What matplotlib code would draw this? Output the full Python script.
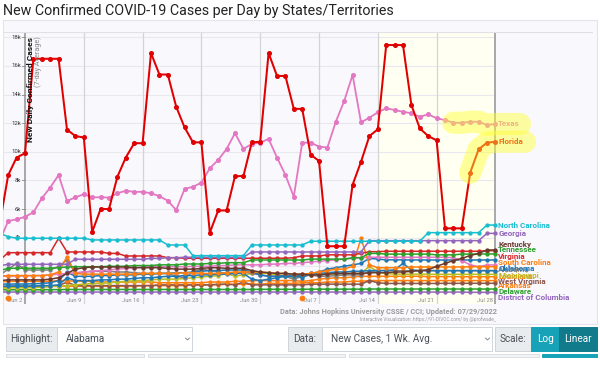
import matplotlib
matplotlib.use("Agg")
import matplotlib.pyplot as plt
from matplotlib.patches import Rectangle
import pandas as pd

plt.rcParams['font.family'] = ['Roboto', 'DejaVu Sans']

# ---------------- data (thousands of new cases/day, 7-day avg) ----------------
dates = pd.date_range('2020-05-30', '2020-07-28')
date_labels = [f"{d:%b} {d.day}" for d in dates]
tick_labels = ['Jun 2', 'Jun 9', 'Jun 16', 'Jun 23', 'Jun 30', 'Jul 7', 'Jul 14', 'Jul 21', 'Jul 28']
ytick_vals = [2, 4, 6, 8, 10, 12, 14, 16, 18]
ytick_labels = ['2k', '4k', '6k', '8k', '10k', '12k', '14k', '16k', '18k']
highlight_start, highlight_end = 'Jul 14', 'Jul 28'
event_dates = ['May 31', 'Jul 5']

florida = [5.0, 8.37, 9.6, 9.9, 16.5, 16.5, 16.5, 16.5, 11.55, 11.1,
           11.0, 4.4, 6.0, 6.0, 8.26, 9.6, 10.6, 10.6, 16.9, 15.4,
           15.4, 13.15, 11.7, 10.66, 10.66, 4.35, 5.9, 5.9, 8.3, 8.3,
           10.66, 10.7, 16.9, 15.3, 15.3, 13.0, 13.0, 9.8, 9.36, 3.4,
           3.4, 3.4, 7.7, 9.3, 11.1, 11.57, 17.46, 17.46, 17.46, 13.27,
           11.64, 11.1, 10.8, 4.65, 4.65, 4.65, 8.54, 10.17, 10.64, 10.7]
texas = [3.8, 5.16, 5.28, 5.46, 5.77, 6.75, 7.5, 8.38, 6.56, 6.82,
         7.03, 6.82, 6.82, 6.8, 7.1, 7.28, 7.2, 7.2, 7.1, 6.9,
         6.58, 5.93, 7.4, 7.56, 7.84, 8.85, 9.43, 10.2, 11.3, 10.2,
         10.55, 10.64, 10.9, 9.6, 8.38, 6.86, 10.64, 10.64, 10.36, 10.3,
         12.1, 13.55, 15.37, 12.06, 12.38, 12.76, 13.04, 12.92, 12.8, 12.69,
         12.45, 12.62, 12.34, 12.22, 12.03, 12.03, 12.1, 12.1, 11.87, 11.94]
north_carolina = [4.30, 4.07, 3.96, 3.96, 3.96, 3.96, 3.96, 3.96, 3.96, 3.96,
                  3.96, 3.84, 3.84, 3.84, 3.84, 3.84, 3.84, 3.84, 3.84, 3.84,
                  3.49, 3.49, 3.49, 2.74, 2.74, 2.74, 2.74, 2.74, 2.74, 2.74,
                  3.49, 3.49, 3.49, 3.49, 3.49, 3.49, 3.49, 3.75, 3.75, 3.75,
                  3.75, 3.75, 3.75, 3.75, 3.75, 3.75, 3.75, 3.75, 3.75, 3.75,
                  3.75, 4.35, 4.35, 4.35, 4.35, 4.35, 4.35, 4.35, 4.88, 4.88]
georgia = [2.04, 2.14, 2.14, 2.14, 2.14, 2.14, 2.14, 2.14, 2.14, 2.49,
           2.49, 2.49, 2.49, 2.49, 2.49, 2.49, 2.49, 2.49, 2.55, 2.55,
           2.60, 2.60, 2.63, 2.63, 2.63, 2.63, 2.63, 2.63, 2.63, 2.63,
           3.00, 3.00, 3.00, 3.00, 3.00, 3.00, 3.00, 3.00, 3.00, 3.00,
           3.00, 3.00, 3.00, 3.00, 3.79, 3.79, 3.79, 3.79, 3.79, 3.79,
           3.79, 3.79, 3.79, 3.79, 3.79, 3.79, 3.79, 3.79, 4.30, 4.30]
virginia = [2.44, 2.95, 2.95, 2.95, 2.95, 2.95, 2.95, 3.96, 3.0, 3.0,
            3.0, 3.0, 3.0, 2.9, 2.9, 2.72, 2.72, 2.72, 2.72, 2.72,
            2.6, 2.6, 2.56, 2.56, 2.56, 2.56, 2.56, 2.56, 2.56, 2.56,
            2.56, 2.56, 2.56, 2.56, 2.56, 2.6, 2.72, 2.72, 2.72, 2.8,
            2.8, 2.8, 2.8, 2.9, 3.02, 3.02, 3.05, 3.05, 3.05, 3.05,
            3.05, 3.05, 3.05, 3.05, 3.05, 3.05, 3.05, 3.05, 3.09, 3.09]
tennessee = [1.7, 1.86, 1.86, 1.86, 1.86, 1.86, 1.86, 1.9, 1.95, 1.97,
             1.97, 1.97, 1.97, 2.0, 2.0, 2.0, 2.05, 2.05, 2.05, 2.1,
             2.1, 2.1, 2.16, 2.16, 2.16, 2.2, 2.2, 2.25, 2.25, 2.25,
             2.44, 2.44, 2.44, 2.44, 2.44, 2.44, 2.44, 2.5, 2.5, 2.5,
             2.5, 2.5, 2.6, 2.6, 2.9, 2.9, 2.85, 2.85, 2.85, 2.85,
             2.85, 2.85, 2.8, 2.8, 2.8, 2.85, 2.85, 2.86, 2.86, 2.86]
kentucky = [1.0, 1.05, 1.05, 1.05, 1.05, 1.05, 1.1, 1.2, 1.5, 1.8,
            1.9, 1.95, 1.95, 1.95, 1.95, 1.95, 1.9, 1.9, 1.9, 1.9,
            1.85, 1.8, 1.8, 1.8, 1.85, 1.9, 1.9, 1.85, 1.86, 1.86,
            1.7, 1.6, 1.55, 1.5, 1.5, 1.45, 1.45, 1.4, 1.4, 1.45,
            1.5, 1.5, 1.5, 1.5, 1.55, 1.55, 1.55, 1.6, 1.6, 1.65,
            1.7, 1.75, 2.0, 2.2, 2.4, 2.55, 2.75, 2.9, 3.14, 3.14]
south_carolina = [1.3, 1.35, 1.35, 1.35, 1.35, 1.35, 1.4, 1.6, 2.67, 1.5,
                  1.45, 1.45, 1.45, 1.45, 1.45, 1.45, 1.45, 1.5, 1.5, 1.5,
                  1.5, 1.5, 1.55, 1.55, 1.5, 1.5, 1.5, 1.55, 1.6, 1.6,
                  1.6, 1.6, 1.55, 1.5, 1.5, 1.45, 1.45, 1.5, 1.6, 1.7,
                  1.8, 1.8, 2.0, 3.96, 2.1, 1.9, 1.9, 1.9, 1.9, 1.95,
                  1.95, 1.95, 1.95, 1.95, 1.95, 1.95, 1.97, 1.97, 1.97, 1.97]
oklahoma = [0.75, 0.76, 0.76, 0.76, 0.78, 0.8, 0.85, 1.0, 1.6, 1.3,
            1.3, 1.3, 1.35, 1.35, 1.4, 1.4, 1.4, 1.45, 1.45, 1.5,
            1.5, 1.55, 1.55, 1.6, 1.65, 1.7, 1.7, 1.74, 1.74, 1.74,
            1.6, 1.4, 1.3, 1.3, 1.35, 1.4, 1.2, 1.5, 1.6, 1.8,
            1.9, 2.0, 2.1, 2.2, 2.56, 2.5, 2.45, 2.45, 2.45, 2.44,
            2.44, 2.44, 2.44, 2.44, 2.44, 2.44, 2.44, 2.44, 2.44, 2.44]
alabama = [1.39, 1.8, 2.2, 1.74, 1.74, 1.74, 1.74, 2.0, 2.44, 1.5,
           1.6, 1.65, 1.65, 1.65, 1.6, 1.6, 1.55, 1.5, 1.5, 1.5,
           1.5, 1.3, 1.2, 1.6, 1.8, 1.7, 1.6, 1.5, 1.5, 1.6,
           1.5, 1.4, 1.3, 1.3, 1.3, 1.1, 1.3, 1.4, 1.3, 1.3,
           1.35, 1.4, 1.4, 1.4, 1.6, 1.7, 1.7, 1.69, 1.69, 1.69,
           1.69, 1.69, 1.69, 1.69, 1.69, 1.69, 1.69, 1.69, 1.69, 1.69]
mississippi = [0.45, 0.5, 0.5, 0.5, 0.5, 0.55, 0.6, 0.6, 0.65, 0.7,
               0.75, 0.8, 0.8, 0.85, 0.9, 0.95, 1.0, 1.0, 1.05, 1.1,
               1.1, 1.1, 1.15, 1.2, 1.25, 1.3, 1.35, 1.5, 1.3, 1.4,
               1.5, 1.5, 1.5, 1.4, 1.35, 1.2, 1.3, 1.4, 1.4, 1.45,
               1.45, 1.5, 1.5, 1.5, 2.0, 1.6, 1.5, 1.45, 1.45, 1.45,
               1.45, 1.45, 1.44, 1.44, 1.44, 1.44, 1.44, 1.44, 1.44, 1.44]
louisiana = [0.9, 0.95, 0.95, 0.95, 0.95, 0.95, 0.95, 1.0, 1.0, 0.95,
             0.95, 0.95, 0.9, 0.9, 0.9, 0.9, 0.9, 0.9, 0.9, 0.85,
             0.85, 0.85, 0.85, 0.85, 0.85, 0.9, 0.9, 0.9, 0.95, 0.95,
             1.0, 1.0, 1.0, 1.0, 1.0, 1.0, 0.95, 1.0, 1.1, 1.15,
             1.2, 1.2, 1.25, 1.3, 1.3, 1.3, 1.3, 1.3, 1.3, 1.3,
             1.3, 1.28, 1.28, 1.28, 1.28, 1.27, 1.27, 1.27, 1.27, 1.27]
west_virginia = [0.55, 0.6, 0.6, 0.6, 0.6, 0.6, 0.6, 0.65, 0.9, 0.65,
                 0.65, 0.65, 0.65, 0.65, 0.65, 0.65, 0.65, 0.65, 0.65, 0.7,
                 0.7, 0.7, 0.7, 0.7, 0.7, 0.7, 0.75, 0.75, 0.7, 0.9,
                 0.7, 0.7, 0.7, 0.7, 0.7, 0.7, 0.7, 0.75, 0.75, 0.75,
                 0.75, 0.75, 0.75, 0.75, 1.0, 0.85, 0.8, 0.8, 0.8, 0.8,
                 0.8, 0.8, 0.8, 0.81, 0.81, 0.81, 0.81, 0.81, 0.81, 0.81]
arkansas = [0.5, 0.55, 0.55, 0.55, 0.55, 0.55, 0.6, 0.6, 0.6, 0.6,
            0.6, 0.6, 0.6, 0.6, 0.6, 0.6, 0.6, 0.65, 0.65, 0.65,
            0.65, 0.65, 0.65, 0.7, 0.7, 0.7, 0.7, 0.75, 0.75, 0.75,
            0.75, 0.75, 0.8, 0.8, 0.8, 0.8, 0.85, 0.85, 0.85, 0.9,
            0.9, 0.9, 0.95, 0.95, 1.0, 1.0, 1.0, 1.0, 1.0, 1.0,
            1.0, 1.0, 1.0, 1.0, 1.0, 1.0, 1.0, 1.0, 1.0, 1.0]
delaware = [0.35, 0.36, 0.36, 0.36, 0.36, 0.36, 0.37, 0.37, 0.38, 0.38,
            0.38, 0.38, 0.38, 0.38, 0.38, 0.38, 0.38, 0.38, 0.38, 0.38,
            0.38, 0.38, 0.38, 0.38, 0.38, 0.38, 0.38, 0.38, 0.38, 0.38,
            0.38, 0.39, 0.39, 0.39, 0.39, 0.39, 0.39, 0.4, 0.4, 0.4,
            0.4, 0.4, 0.4, 0.4, 0.41, 0.41, 0.41, 0.41, 0.41, 0.41,
            0.41, 0.41, 0.41, 0.41, 0.41, 0.41, 0.41, 0.41, 0.41, 0.41]
district_of_columbia = [0.2, 0.2, 0.2, 0.2, 0.2, 0.2, 0.2, 0.2, 0.2, 0.2,
                        0.2, 0.2, 0.2, 0.2, 0.2, 0.2, 0.2, 0.2, 0.2, 0.2,
                        0.2, 0.2, 0.2, 0.2, 0.2, 0.2, 0.2, 0.2, 0.2, 0.2,
                        0.2, 0.2, 0.2, 0.2, 0.2, 0.2, 0.2, 0.2, 0.2, 0.2,
                        0.2, 0.2, 0.2, 0.2, 0.2, 0.2, 0.2, 0.2, 0.2, 0.2,
                        0.2, 0.2, 0.2, 0.2, 0.2, 0.2, 0.18, 0.18, 0.18, 0.18]
state_pink = [1.3, 1.32, 1.32, 1.32, 1.35, 1.35, 1.4, 1.45, 1.5, 1.55,
              1.6, 1.65, 1.7, 1.75, 1.8, 1.85, 1.9, 1.95, 1.97, 1.97,
              1.97, 1.97, 1.97, 2.0, 2.0, 2.0, 2.05, 2.05, 2.1, 2.1,
              2.1, 2.1, 2.15, 2.15, 2.2, 2.2, 2.25, 2.3, 2.35, 2.4,
              2.45, 2.5, 2.55, 2.6, 2.63, 2.63, 2.63, 2.63, 2.63, 2.63,
              2.63, 2.63, 2.63, 2.63, 2.6, 2.4, 2.1, 1.97, 2.09, 2.09]
state_blue = [0.6, 0.62, 0.62, 0.62, 0.62, 0.65, 0.65, 0.7, 1.2, 1.0,
              1.0, 1.0, 1.05, 1.05, 1.1, 1.1, 1.15, 1.2, 1.2, 1.25,
              1.3, 1.3, 1.35, 1.35, 1.4, 1.4, 1.45, 1.45, 1.5, 1.5,
              1.1, 1.0, 1.1, 1.2, 1.3, 1.3, 1.4, 1.5, 1.5, 1.55,
              1.6, 1.6, 1.65, 1.65, 1.7, 1.7, 1.7, 1.75, 2.2, 1.75,
              1.7, 1.7, 1.7, 1.7, 1.7, 1.7, 1.7, 1.7, 1.7, 1.7]

# (name, values, color, label shown at right)
series = [
    ('District of Columbia', district_of_columbia, '#9467bd', True),
    ('Delaware', delaware, '#2ca02c', True),
    ('Arkansas', arkansas, '#ff7f0e', True),
    ('West Virginia', west_virginia, '#8c564b', True),
    ('Louisiana', louisiana, '#ff7f0e', True),
    ('Mississippi', mississippi, '#bcbd22', True),
    ('Alabama', alabama, '#7f7f7f', True),
    ('Oklahoma', oklahoma, '#1f77b4', True),
    ('_blue', state_blue, '#1f77b4', False),
    ('_pink', state_pink, '#e377c2', False),
    ('South Carolina', south_carolina, '#ff7f0e', True),
    ('Virginia', virginia, '#d62728', True),
    ('Tennessee', tennessee, '#2ca02c', True),
    ('Kentucky', kentucky, '#6b3a2e', True),
    ('Georgia', georgia, '#9467bd', True),
    ('North Carolina', north_carolina, '#17becf', True),
    ('Texas', texas, '#e377c2', True),
    ('Florida', florida, '#e00000', True),
]
# label vertical positions (collision-adjusted, in k)
label_pos = {'North Carolina': 4.88, 'Georgia': 4.26, 'Kentucky': 3.54, 'Tennessee': 3.14,
             'Virginia': 2.67, 'South Carolina': 2.25, 'Oklahoma': 1.86, 'Alabama': 1.80,
             'Mississippi': 1.39, 'Louisiana': 1.32, 'West Virginia': 0.97, 'Arkansas': 0.64,
             'Delaware': 0.27, 'District of Columbia': -0.15, 'Texas': 12.0, 'Florida': 10.7}

# ---------------- figure ----------------
W, H = 600, 388
fig = plt.figure(figsize=(W / 100, H / 100), dpi=100)
fig.patch.set_facecolor('white')

ui = fig.add_axes([0, 0, 1, 1], zorder=0)
ui.set_xlim(0, W)
ui.set_ylim(H, 0)
ui.axis('off')

# chart container
ui.add_patch(Rectangle((3, 20), 594, 304, facecolor='#f9f8fd', edgecolor='#e4e4ea', lw=0.8))
ui.text(3, 10.5, 'New Confirmed COVID-19 Cases per Day by States/Territories',
        fontsize=10.3, color='#222222', va='center', ha='left')

# main axes (pixel mapping: Jun 2 -> x=25, 8.4 px/day)
ax_l, ax_r, ax_t, ax_b = 3, 593, 32, 304
ax = fig.add_axes([ax_l / W, 1 - ax_b / H, (ax_r - ax_l) / W, (ax_b - ax_t) / H], zorder=1)
ax.patch.set_alpha(0)
x = list(range(len(dates)))
i_jun2 = date_labels.index('Jun 2')
px_per_day = 8.4
x0 = i_jun2 + (ax_l - 25) / px_per_day
x1 = i_jun2 + (ax_r - 25) / px_per_day
ax.set_xlim(x0, x1)
y0 = (294.9 - ax_b) / 14.31
y1 = (294.9 - ax_t) / 14.31
ax.set_ylim(y0, y1)

i_last = date_labels.index('Jul 28')
ax.axvspan(date_labels.index(highlight_start), date_labels.index(highlight_end),
           color='#fffff2', zorder=0.1, lw=0)
for yt in ytick_vals:
    ax.hlines(yt, x0, i_last, color='#e8e8ee', lw=0.8, zorder=0.3)
tick_idx = [date_labels.index(t) for t in tick_labels]
for ti in tick_idx:
    edge = ti in (i_jun2, i_last)
    ax.axvline(ti, color='#a8a8a8' if edge else '#d4d4d4', lw=1.4 if edge else 0.9, zorder=0.4)
    ax.annotate(date_labels[ti], xy=(ti, 0), xycoords=('data', 'axes fraction'),
                xytext=(-2, 2.2), textcoords='offset points', ha='right', va='center',
                fontsize=4.2, color='#8a8a8a')
ax.axhline(y1, color='#e0e0e6', lw=0.8, zorder=0.4)

for v, lab in zip(ytick_vals, ytick_labels):
    ax.annotate(lab, xy=(i_jun2, v), xytext=(-3, 0), textcoords='offset points',
                ha='right', va='center', fontsize=4.3, color='#333333', zorder=0.5)
    ax.plot([i_jun2 - 0.3, i_jun2], [v, v], color='#888888', lw=0.6, zorder=0.5)

for sp in ax.spines.values():
    sp.set_visible(False)
ax.set_xticks([])
ax.set_yticks([])

ax.text(i_jun2 + 0.6, 18.05, 'New Daily Confirmed Cases', rotation=90, ha='center', va='top',
        fontsize=6.1, fontweight='bold', color='#111111', zorder=5)
ax.text(i_jun2 + 1.6, 18.05, '(7-day Average)', rotation=90, ha='center', va='top',
        fontsize=5.2, color='#888888', zorder=5)

for name, vals, col, show in series:
    big = name in ('Florida', 'Texas')
    ax.plot(x, vals, color=col, lw=1.45 if name == 'Florida' else (1.3 if big else 1.1),
            marker='o', ms=2.6 if big else 2.1, mec=col, mfc=col,
            zorder=3 if big else 2, clip_on=True)
    if show:
        ax.annotate(name, xy=(i_last, label_pos[name]), xytext=(2, 0), textcoords='offset points',
                    ha='left', va='center', fontsize=5.8, fontweight='bold', color=col,
                    annotation_clip=False, zorder=4)

# yellow highlight strokes for Texas and Florida
tx_i = date_labels.index('Jul 23')
fl_i = date_labels.index('Jul 25')
ext = (520 - 25) / px_per_day + i_jun2
ext_f = (525 - 25) / px_per_day + i_jun2
ax.plot(x[tx_i:] + [ext], texas[tx_i:] + [texas[-1]], color='#ffff30', alpha=0.45,
        lw=16, solid_capstyle='round', solid_joinstyle='round', zorder=6, clip_on=False)
ax.plot(x[fl_i:] + [ext_f], florida[fl_i:] + [florida[-1]], color='#ffff30', alpha=0.45,
        lw=16, solid_capstyle='round', solid_joinstyle='round', zorder=6, clip_on=False)

for ev in event_dates:
    ax.plot([date_labels.index(ev)], [-0.25], 'o', color='#ff7f0e', ms=3.2, zorder=5, clip_on=False)

# source text
ui.text(497, 312, 'Data: Johns Hopkins University CSSE / CCI; Updated: 07/29/2022',
        fontsize=5.3, fontweight='bold', color='#9a9a9a', ha='right', va='center')
ui.text(496, 319, 'Interactive Visualization: https://91-DIVOC.com/ by @profwade_',
        fontsize=3.4, color='#9a9a9a', ha='right', va='center')

# ---------------- controls row ----------------
def box(x, y, w, h, fc, ec='#ced4da'):
    ui.add_patch(Rectangle((x, y), w, h, facecolor=fc, edgecolor=ec, lw=0.7))

ry, rh = 327, 24
box(6, ry, 51, rh, '#e9ecef')
ui.text(31.5, ry + rh / 2, 'Highlight:', fontsize=7.2, color='#495057', ha='center', va='center')
box(57, ry, 135, rh, 'white')
ui.text(66, ry + rh / 2, 'Alabama', fontsize=7.2, color='#495057', ha='left', va='center')
ui.plot([185.5, 187.5, 189.5], [ry + 11, ry + 13, ry + 11], color='#777777', lw=0.6)

box(288, ry, 34, rh, '#e9ecef')
ui.text(305, ry + rh / 2, 'Data:', fontsize=7.2, color='#495057', ha='center', va='center')
box(322, ry, 170, rh, 'white')
ui.text(331, ry + rh / 2, 'New Cases, 1 Wk. Avg.', fontsize=7.2, color='#495057', ha='left', va='center')
ui.plot([485.5, 487.5, 489.5], [ry + 11, ry + 13, ry + 11], color='#777777', lw=0.6)

box(495, ry, 36, rh, '#e9ecef')
ui.text(513, ry + rh / 2, 'Scale:', fontsize=7.2, color='#495057', ha='center', va='center')
box(531, ry, 28, rh, '#17a2b8', '#17a2b8')
ui.text(545, ry + rh / 2, 'Log', fontsize=7.2, color='white', ha='center', va='center')
box(559, ry, 38, rh, '#117a8b', '#117a8b')
ui.text(578, ry + rh / 2, 'Linear', fontsize=7.2, color='white', ha='center', va='center')

# partially visible second row
for (bx, bw, fc) in [(6, 138, '#f1f3f5'), (148, 197, '#f1f3f5'), (349, 190, '#f1f3f5')]:
    box(bx, 353.5, bw, 3.5, fc, '#dcdfe3')
box(542, 353.5, 55, 3.5, '#17a2b8', '#17a2b8')

fig.savefig('out.png', dpi=100)
